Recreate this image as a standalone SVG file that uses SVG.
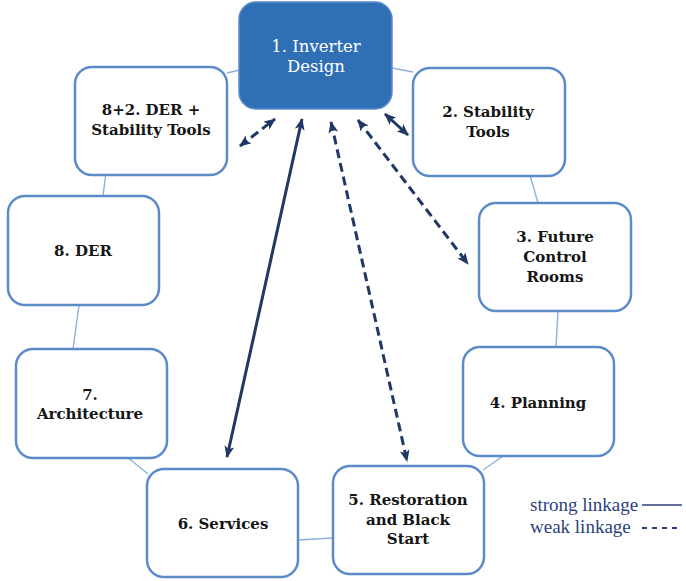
<svg xmlns="http://www.w3.org/2000/svg" width="686" height="581" viewBox="0 0 686 581">
<style>
  .box{fill:#ffffff;stroke:#5b8bc8;stroke-width:2.5}
  .main{fill:#2f6fb6;stroke:#5a8ccb;stroke-width:1.5}
  .lbl{font-family:"DejaVu Serif","Liberation Serif",serif;font-size:15px;font-weight:bold;fill:#151515;text-anchor:middle}
  .wl{fill:#ffffff;font-weight:normal;font-size:16.5px}
  .ring{stroke:#8cb1db;stroke-width:1.4;fill:none}
  .arr{stroke:#1f3864;stroke-width:3;fill:none;marker-start:url(#ah);marker-end:url(#ah)}
  .dash{stroke-dasharray:9 5}
  .leg{font-family:"Liberation Serif",serif;font-size:19px;fill:#2b3f7e}
</style>
<defs>
  <marker id="ah" viewBox="0 0 12 10" refX="11" refY="5" markerWidth="12" markerHeight="10" markerUnits="userSpaceOnUse" orient="auto-start-reverse">
    <path d="M0,0 L12,5 L0,10 L3,5 Z" fill="#1f3864"/>
  </marker>
</defs>
<g id="connectors">
  <line class="ring" x1="227" y1="73" x2="240" y2="70"/>
  <line class="ring" x1="392" y1="68" x2="413" y2="72"/>
  <line class="ring" x1="530" y1="175" x2="538" y2="203"/>
  <line class="ring" x1="558" y1="310" x2="556" y2="347"/>
  <line class="ring" x1="503" y1="456" x2="483" y2="470"/>
  <line class="ring" x1="298" y1="540" x2="333" y2="538"/>
  <line class="ring" x1="127" y1="457" x2="148" y2="474"/>
  <line class="ring" x1="79" y1="305" x2="73" y2="349"/>
  <line class="ring" x1="106" y1="172" x2="103" y2="196"/>
  <line class="arr dash" x1="240" y1="146" x2="275" y2="119"/>
  <line class="arr" x1="385" y1="114" x2="408" y2="135"/>
  <line class="arr dash" x1="358" y1="120" x2="468" y2="264"/>
  <line class="arr dash" x1="331" y1="122" x2="407" y2="461"/>
  <line class="arr" x1="302" y1="119" x2="227" y2="457"/>
</g>
<g id="n1">
  <rect class="main" x="239" y="2" width="153" height="107" rx="17"/>
  <text class="lbl wl" x="316" y="52">1. Inverter</text>
  <text class="lbl wl" x="316" y="72">Design</text>
</g>
<g id="n82">
  <rect class="box" x="75" y="67" width="152" height="108" rx="17"/>
  <text class="lbl" x="151" y="115">8+2. DER +</text>
  <text class="lbl" x="151" y="135">Stability Tools</text>
</g>
<g id="n2">
  <rect class="box" x="413" y="68" width="152" height="108" rx="17"/>
  <text class="lbl" x="488" y="117">2. Stability</text>
  <text class="lbl" x="488" y="137">Tools</text>
</g>
<g id="n3">
  <rect class="box" x="479" y="203" width="152" height="108" rx="17"/>
  <text class="lbl" x="555" y="242">3. Future</text>
  <text class="lbl" x="555" y="262">Control</text>
  <text class="lbl" x="555" y="282">Rooms</text>
</g>
<g id="n8">
  <rect class="box" x="8" y="196" width="151" height="109" rx="17"/>
  <text class="lbl" x="83" y="256">8. DER</text>
</g>
<g id="n7">
  <rect class="box" x="16" y="349" width="151" height="109" rx="17"/>
  <text class="lbl" x="90" y="400">7.</text>
  <text class="lbl" x="90" y="419">Architecture</text>
</g>
<g id="n4">
  <rect class="box" x="463" y="347" width="151" height="109" rx="17"/>
  <text class="lbl" x="538" y="408">4. Planning</text>
</g>
<g id="n6">
  <rect class="box" x="147" y="469" width="151" height="108" rx="17"/>
  <text class="lbl" x="223" y="529">6. Services</text>
</g>
<g id="n5">
  <rect class="box" x="333" y="466" width="151" height="108" rx="17"/>
  <text class="lbl" x="408" y="505">5. Restoration</text>
  <text class="lbl" x="408" y="525">and Black</text>
  <text class="lbl" x="408" y="544">Start</text>
</g>
<g id="legend">
  <text class="leg" x="530" y="511">strong linkage</text>
  <line x1="642" y1="505" x2="682" y2="505" stroke="#2b3f7e" stroke-width="1.3"/>
  <text class="leg" x="530" y="533">weak linkage</text>
  <line x1="642" y1="528" x2="682" y2="528" stroke="#2b3f7e" stroke-width="1.8" stroke-dasharray="5 5"/>
</g>
</svg>
